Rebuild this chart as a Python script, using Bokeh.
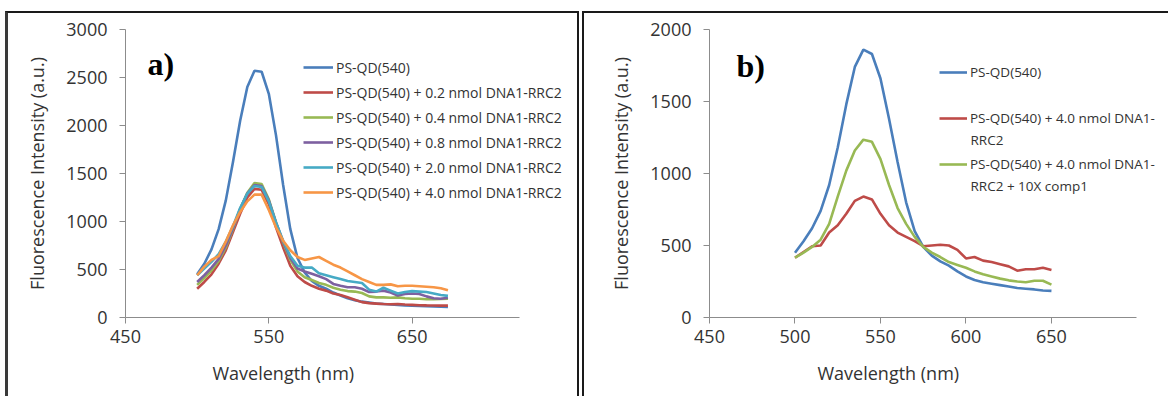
from bokeh.plotting import figure
from bokeh.layouts import row
from bokeh.models import Legend, LegendItem, Label, Range1d, FixedTicker, Title
from bokeh.embed import file_html
from bokeh.resources import INLINE

# ---------------- data: panel a ----------------
wl_a = [500, 505, 510, 515, 520, 525, 530, 535, 540, 545, 550, 555, 560, 565, 570, 575,
        580, 585, 590, 595, 600, 605, 610, 615, 620, 625, 630, 635, 640, 645, 650, 655,
        660, 665, 670, 675]
qd_a = [450, 560, 710, 920, 1220, 1620, 2050, 2400, 2570, 2560, 2330, 1900, 1380, 920, 620, 470,
        380, 330, 300, 260, 230, 200, 180, 165, 155, 145, 140, 135, 130, 125, 122, 120,
        118, 115, 112, 110]
n02_a = [300, 370, 450, 560, 700, 890, 1080, 1250, 1340, 1330, 1180, 940, 730, 540, 430, 370,
         330, 300, 280, 250, 235, 210, 185, 160, 150, 145, 140, 138, 140, 135, 132, 128,
         126, 125, 124, 124]
n04_a = [340, 410, 490, 590, 730, 920, 1130, 1300, 1400, 1390, 1230, 990, 780, 600, 480, 420,
         390, 360, 340, 310, 290, 275, 270, 255, 220, 210, 210, 205, 210, 200, 195, 195,
         190, 190, 192, 195]
n08_a = [370, 440, 520, 610, 750, 930, 1130, 1290, 1380, 1370, 1220, 990, 790, 620, 510, 480,
         455, 430, 400, 350, 330, 315, 315, 300, 265, 270, 280, 260, 230, 245, 250, 245,
         220, 200, 195, 205]
n20_a = [440, 510, 580, 660, 790, 950, 1140, 1290, 1370, 1360, 1210, 990, 800, 640, 540, 520,
         520, 460, 440, 420, 400, 380, 370, 360, 290, 270, 310, 280, 250, 265, 275, 270,
         265, 250, 235, 225]
n40_a = [440, 530, 600, 640, 790, 960, 1100, 1210, 1280, 1280, 1120, 940, 800, 700, 630, 600,
         615, 630, 590, 550, 520, 480, 440, 400, 370, 340, 340, 345, 325, 330, 330, 325,
         320, 315, 305, 285]
labels_a = ["PS-QD(540)",
            "PS-QD(540) + 0.2 nmol DNA1-RRC2",
            "PS-QD(540) + 0.4 nmol DNA1-RRC2",
            "PS-QD(540) + 0.8 nmol DNA1-RRC2",
            "PS-QD(540) + 2.0 nmol DNA1-RRC2",
            "PS-QD(540) + 4.0 nmol DNA1-RRC2"]
xticks_a = [450, 550, 650]
yticks_a = [0, 500, 1000, 1500, 2000, 2500, 3000]

# ---------------- data: panel b ----------------
wl_b = [500, 505, 510, 515, 520, 525, 530, 535, 540, 545, 550, 555, 560, 565, 570, 575,
        580, 585, 590, 595, 600, 605, 610, 615, 620, 625, 630, 635, 640, 645, 650]
qd_b = [450, 530, 620, 740, 920, 1180, 1480, 1740, 1860, 1830, 1660, 1380, 1080, 800, 600, 490,
        430, 390, 360, 320, 285, 260, 245, 235, 225, 215, 205, 200, 195, 188, 185]
dna_b = [415, 455, 495, 500, 590, 640, 720, 810, 840, 820, 720, 640, 590, 560, 530, 495,
         500, 505, 500, 470, 410, 420, 395, 385, 370, 355, 325, 335, 335, 345, 330]
comp_b = [415, 450, 490, 540, 650, 840, 1020, 1160, 1235, 1220, 1100, 920, 760, 650, 560, 490,
          450, 420, 385, 365, 345, 320, 300, 285, 270, 258, 250, 245, 255, 255, 228]
labels_b = ["PS-QD(540)",
            "PS-QD(540) + 4.0 nmol DNA1-",
            "PS-QD(540) + 4.0 nmol DNA1-"]
labels_b2 = ["RRC2", "RRC2 + 10X comp1"]
xticks_b = [450, 500, 550, 600, 650]
yticks_b = [0, 500, 1000, 1500, 2000]

COLORS = ["#4A7EBB", "#BE4B48", "#98B954", "#7D60A0", "#46AAC5", "#F79646"]
FONT = "Open Sans"
TXT = "#333333"
AX = "#8C8C8C"


def style(p, xt, yt, xbounds, xoff):
    p.grid.visible = False
    p.outline_line_color = None
    p.background_fill_color = "white"
    p.border_fill_color = "white"
    for ax in (p.xaxis[0], p.yaxis[0]):
        ax.axis_line_color = AX
        ax.axis_line_width = 1
        ax.major_tick_line_color = AX
        ax.major_tick_out = 6
        ax.major_tick_in = 0
        ax.minor_tick_line_color = None
        ax.major_label_text_font = FONT
        ax.major_label_text_font_size = "18px"
        ax.major_label_text_color = TXT
        ax.axis_label_text_font = FONT
        ax.axis_label_text_font_size = "18px"
        ax.axis_label_text_font_style = "normal"
        ax.axis_label_text_color = TXT
    p.xaxis[0].ticker = FixedTicker(ticks=xt)
    p.yaxis[0].ticker = FixedTicker(ticks=yt)
    p.xaxis[0].bounds = xbounds
    p.yaxis[0].axis_label = "Fluorescence Intensity (a.u.)"
    p.xaxis[0].major_label_standoff = 6
    p.yaxis[0].major_label_standoff = 12
    p.yaxis[0].axis_label_standoff = 14
    p.add_layout(Title(text="Wavelength (nm)", align="left", offset=xoff, standoff=27,
                       text_font=FONT, text_font_size="18px", text_font_style="normal",
                       text_color=TXT), "below")


# ---------------- panel a ----------------
pa = figure(width=574, height=385, x_range=Range1d(450, 764), y_range=Range1d(0, 3000),
            output_backend="svg", toolbar_location=None,
            min_border_left=117, min_border_right=7, min_border_top=12, min_border_bottom=81)
style(pa, xticks_a, yticks_a, (450, 725), 87)
items_a = []
for ys, c, lab in zip([qd_a, n02_a, n04_a, n08_a, n20_a, n40_a], COLORS, labels_a):
    r = pa.line(wl_a, ys, line_color=c, line_width=2.6)
    items_a.append(LegendItem(label=lab, renderers=[r]))
leg_a = Legend(items=items_a, location=(178, 115), glyph_width=30, glyph_height=20,
               label_height=20, spacing=5, padding=0, margin=0, label_standoff=3,
               label_text_font=FONT, label_text_font_size="14px", label_text_color=TXT,
               border_line_alpha=0, background_fill_alpha=0)
pa.add_layout(leg_a)
pa.add_layout(Label(x=22, y=236, x_units="screen", y_units="screen", text="a)",
                    text_font="Liberation Serif", text_font_style="bold",
                    text_font_size="32px", text_color="black"))
pa.styles = {"border-left": "3px solid #3a3a3a", "border-top": "2px solid #1a1a1a",
             "border-right": "2px solid #1a1a1a", "margin-left": "5px", "margin-top": "11px"}

# ---------------- panel b ----------------
pb = figure(width=586, height=385, x_range=Range1d(450, 716.7), y_range=Range1d(0, 2000),
            output_backend="svg", toolbar_location=None,
            min_border_left=125, min_border_right=5, min_border_top=16, min_border_bottom=81)
style(pb, xticks_b, yticks_b, (450, 700), 108)
items_b = []
for ys, c, lab in zip([qd_b, dna_b, comp_b], [COLORS[0], COLORS[1], COLORS[2]], labels_b):
    r = pb.line(wl_b, ys, line_color=c, line_width=2.6)
    items_b.append(LegendItem(label=lab, renderers=[r]))
leg_b = Legend(items=items_b, location=(230, 143), glyph_width=28, glyph_height=20,
               label_height=20, spacing=26, padding=0, margin=0, label_standoff=3,
               label_text_font=FONT, label_text_font_size="13.5px", label_text_color=TXT,
               border_line_alpha=0, background_fill_alpha=0)
pb.add_layout(leg_b)
for txt, yy in zip(labels_b2, [178, 132]):
    pb.add_layout(Label(x=261, y=yy, x_units="screen", y_units="screen", text=txt,
                        text_baseline="middle", text_font=FONT, text_font_size="13.5px",
                        text_color=TXT))
pb.add_layout(Label(x=27, y=234, x_units="screen", y_units="screen", text="b)",
                    text_font="Liberation Serif", text_font_style="bold",
                    text_font_size="32px", text_color="black"))
pb.styles = {"border-left": "2px solid #1a1a1a", "border-top": "2px solid #1a1a1a",
             "margin-left": "3px", "margin-top": "11px"}

layout = row(pa, pb)
open("out.html", "w").write(file_html(layout, INLINE))
